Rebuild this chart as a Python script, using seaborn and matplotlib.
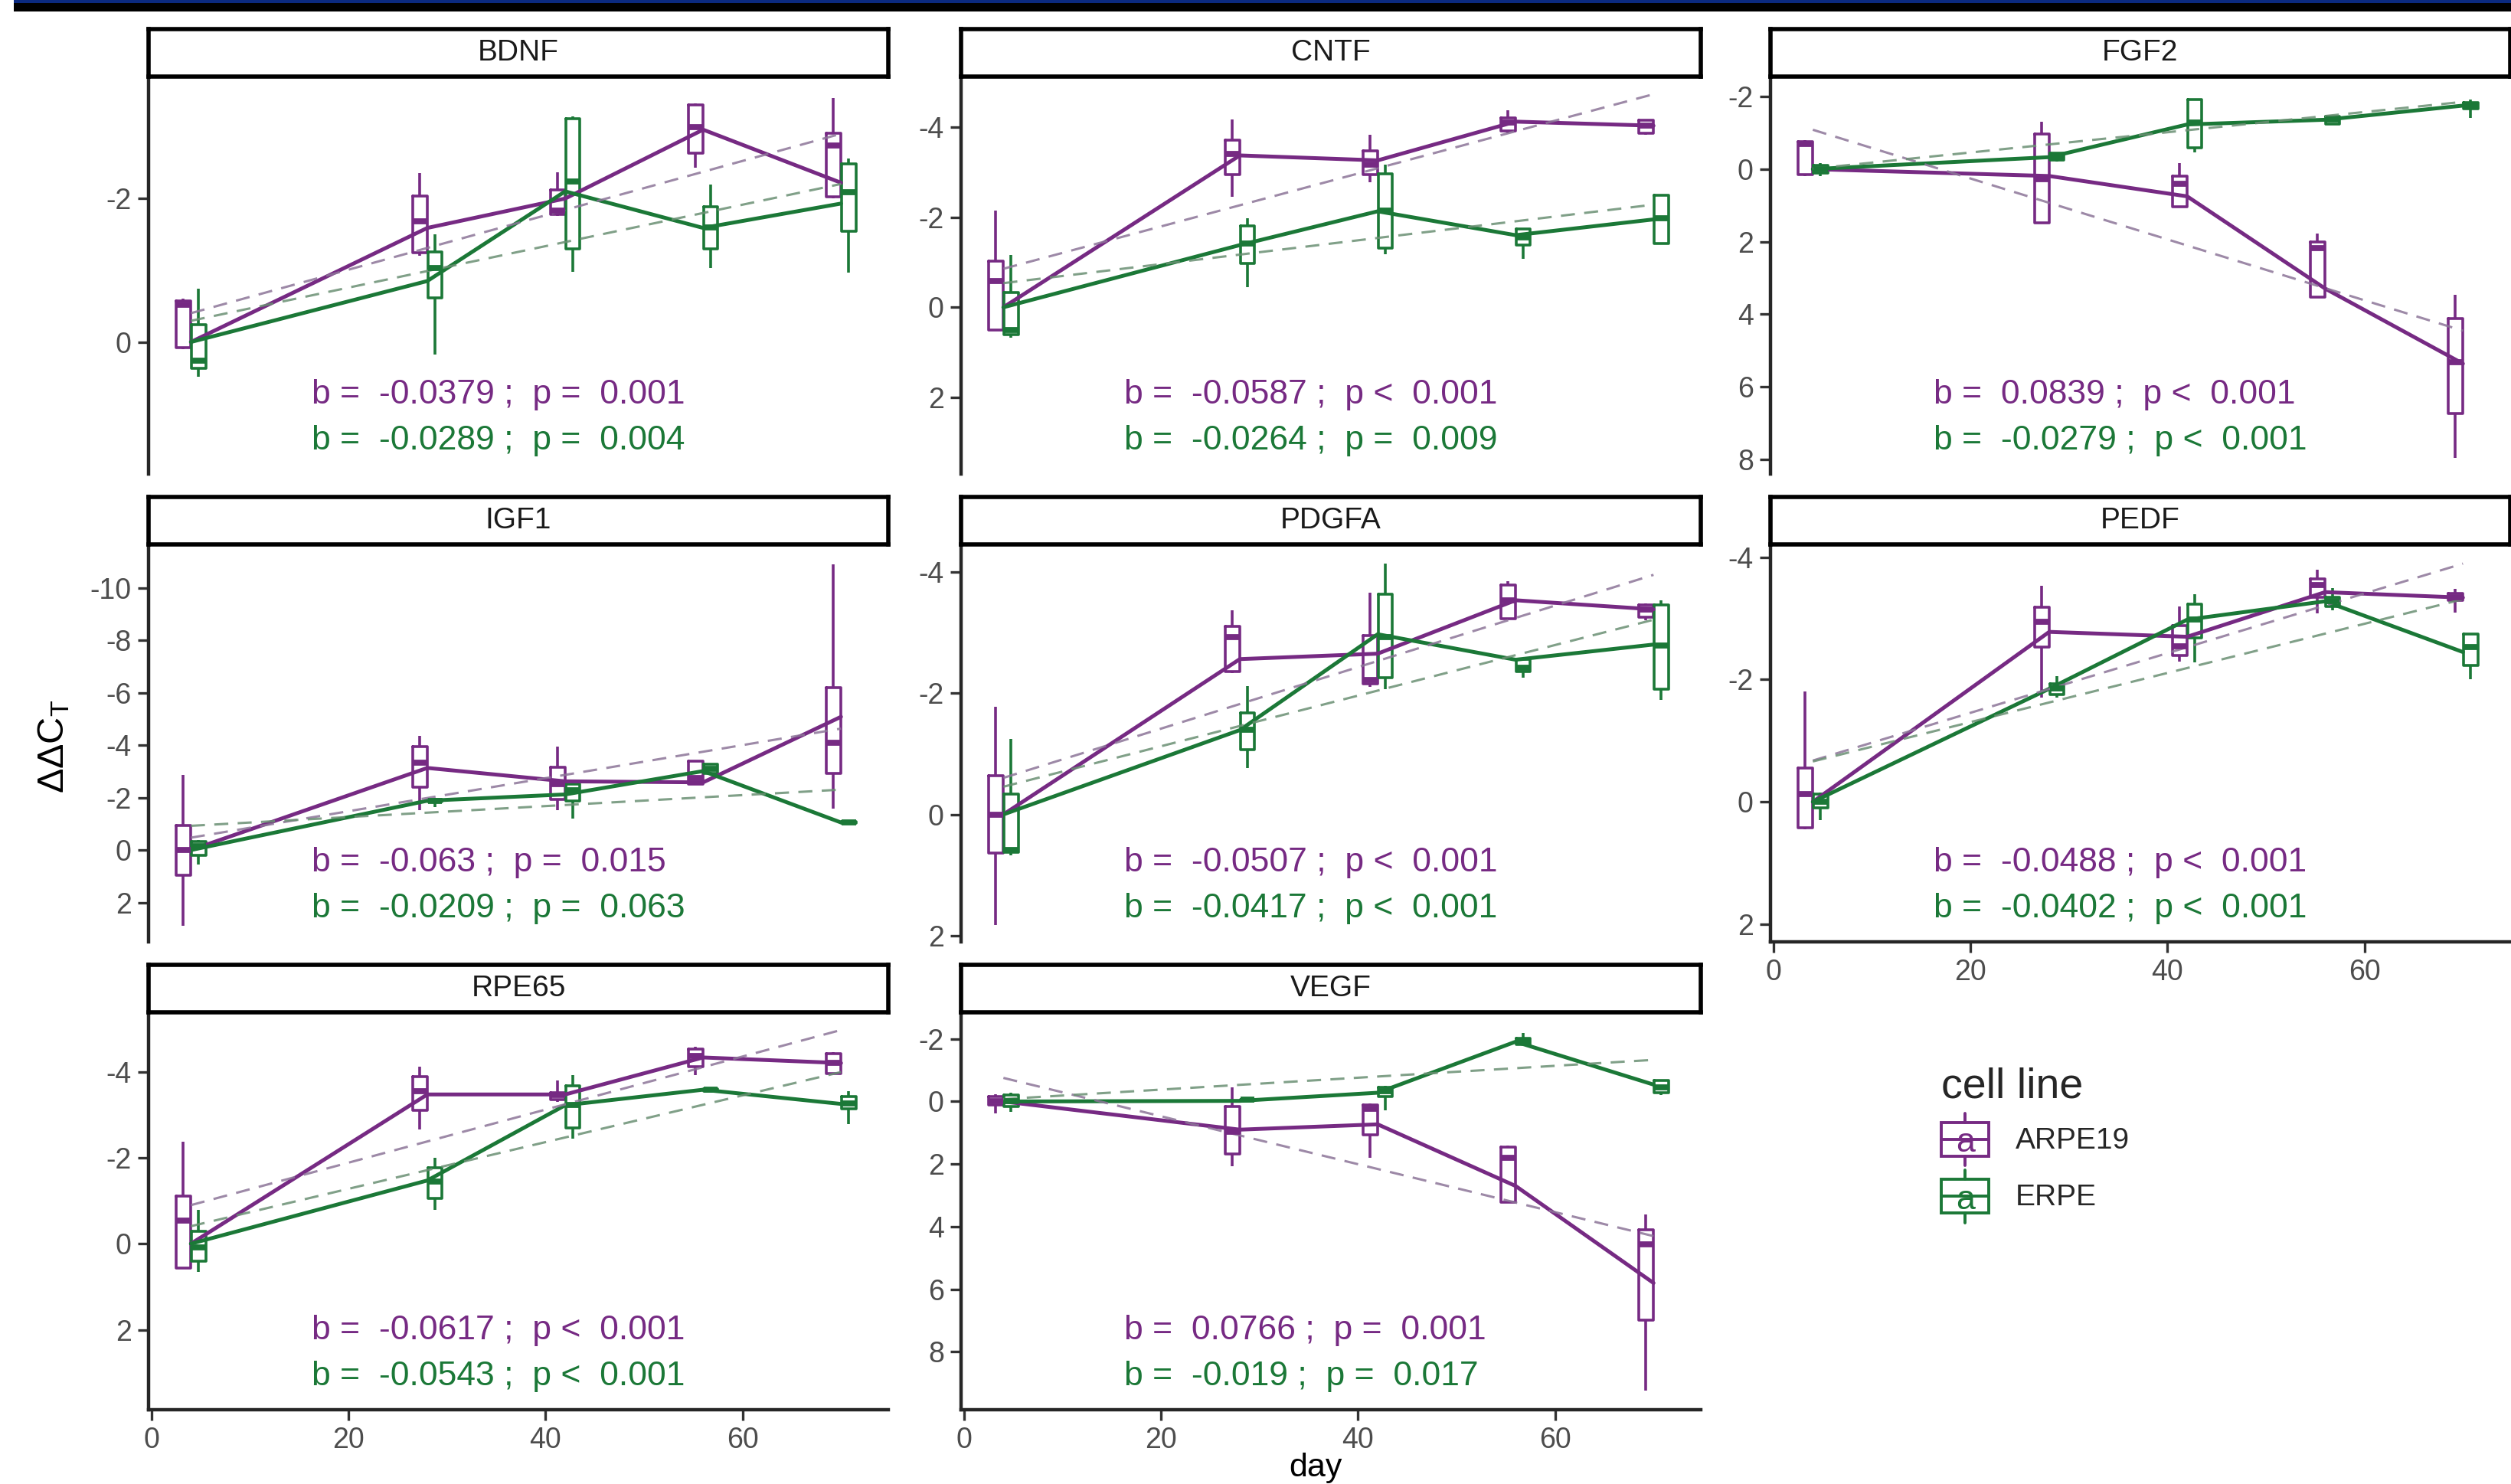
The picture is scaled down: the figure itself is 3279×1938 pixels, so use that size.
import numpy as np
import pandas as pd
import matplotlib
matplotlib.use("Agg")
import matplotlib.pyplot as plt
import seaborn as sns
from matplotlib.patches import Rectangle
from matplotlib.lines import Line2D
from matplotlib.text import Text
from matplotlib.legend_handler import HandlerBase

# ---- data ----
genes = ["BDNF", "CNTF", "FGF2", "IGF1", "PDGFA", "PEDF", "RPE65", "VEGF"]
cell_lines = ["ARPE19", "ERPE"]
days = [4, 28, 42, 56, 70]

# box stats per day: [min, q1, median, q3, max]  (ddCt)
BDNF_ARPE19 = [[-0.6, -0.57, -0.52, 0.08, 0.1], [-2.36, -2.03, -1.68, -1.24, -1.2],
               [-2.37, -2.12, -1.83, -1.78, -1.76], [-3.33, -3.3, -3.0, -2.63, -2.43],
               [-3.4, -2.91, -2.74, -2.02, -2.0]]
BDNF_ERPE = [[-0.74, -0.24, 0.26, 0.37, 0.48], [-1.5, -1.26, -1.03, -0.61, 0.17],
             [-3.14, -3.11, -2.24, -1.3, -0.98], [-2.2, -1.89, -1.6, -1.3, -1.03],
             [-2.56, -2.48, -2.09, -1.54, -0.97]]
CNTF_ARPE19 = [[-2.15, -1.03, -0.58, 0.5, 0.52], [-4.17, -3.71, -3.4, -2.95, -2.46],
               [-3.82, -3.48, -3.16, -2.95, -2.77], [-4.38, -4.2, -4.1, -3.92, -3.87],
               [-4.17, -4.15, -4.03, -3.87, -3.82]]
CNTF_ERPE = [[-1.16, -0.33, 0.5, 0.61, 0.68], [-1.97, -1.8, -1.41, -0.98, -0.44],
             [-3.16, -2.97, -2.15, -1.31, -1.17], [-1.76, -1.73, -1.55, -1.38, -1.07],
             [-2.5, -2.49, -1.97, -1.41, -1.4]]
FGF2_ARPE19 = [[-0.8, -0.76, -0.7, 0.15, 0.19], [-1.3, -0.97, 0.28, 1.48, 1.5],
               [-0.16, 0.19, 0.41, 1.03, 1.05], [1.77, 2.0, 2.17, 3.53, 3.55],
               [3.47, 4.11, 5.32, 6.74, 7.95]]
FGF2_ERPE = [[-0.16, -0.1, 0.0, 0.1, 0.19], [-0.47, -0.43, -0.33, -0.24, -0.2],
             [-1.94, -1.91, -1.28, -0.59, -0.46], [-1.47, -1.45, -1.36, -1.24, -1.22],
             [-1.91, -1.84, -1.75, -1.66, -1.42]]
IGF1_ARPE19 = [[-2.87, -0.95, 0.0, 0.97, 2.88], [-4.36, -3.95, -3.34, -2.41, -1.53],
               [-3.95, -3.16, -2.52, -1.94, -1.53], [-3.4, -3.38, -2.76, -2.52, -2.5],
               [-10.9, -6.19, -4.09, -2.93, -1.59]]
IGF1_ERPE = [[-0.37, -0.31, -0.14, 0.21, 0.56], [-2.0, -1.94, -1.88, -1.83, -1.65],
             [-2.58, -2.52, -2.29, -1.88, -1.19], [-3.28, -3.26, -3.1, -2.93, -2.9],
             [-1.1, -1.07, -1.05, -1.03, -1.0]]
PDGFA_ARPE19 = [[-1.77, -0.64, 0.0, 0.64, 1.82], [-3.37, -3.1, -2.92, -2.35, -2.33],
                [-3.65, -2.95, -2.21, -2.15, -2.1], [-3.85, -3.78, -3.53, -3.23, -3.22],
                [-3.48, -3.45, -3.38, -3.25, -3.2]]
PDGFA_ERPE = [[-1.24, -0.34, 0.59, 0.62, 0.67], [-2.12, -1.67, -1.39, -1.07, -0.76],
              [-4.13, -3.63, -2.92, -2.25, -2.06], [-2.57, -2.56, -2.42, -2.35, -2.25],
              [-3.53, -3.45, -2.78, -2.07, -1.89]]
PEDF_ARPE19 = [[-1.8, -0.55, -0.13, 0.43, 0.45], [-3.53, -3.18, -2.95, -2.53, -1.7],
               [-3.2, -2.88, -2.55, -2.4, -2.3], [-3.8, -3.65, -3.55, -3.35, -3.08],
               [-3.48, -3.41, -3.35, -3.29, -3.1]]
PEDF_ERPE = [[-0.15, -0.13, 0.0, 0.1, 0.3], [-2.05, -1.93, -1.85, -1.75, -1.7],
             [-3.4, -3.23, -2.98, -2.68, -2.28], [-3.5, -3.35, -3.28, -3.2, -3.13],
             [-2.75, -2.74, -2.53, -2.23, -2.0]]
RPE65_ARPE19 = [[-2.37, -1.1, -0.53, 0.57, 0.58], [-4.12, -3.88, -3.55, -3.1, -2.65],
                [-3.8, -3.51, -3.45, -3.35, -3.3], [-4.57, -4.53, -4.37, -4.12, -3.92],
                [-4.45, -4.41, -4.2, -3.96, -3.94]]
RPE65_ERPE = [[-0.78, -0.29, 0.08, 0.41, 0.65], [-2.0, -1.76, -1.44, -1.06, -0.78],
              [-3.92, -3.67, -3.22, -2.69, -2.45], [-3.62, -3.6, -3.58, -3.55, -3.53],
              [-3.55, -3.43, -3.27, -3.14, -2.78]]
VEGF_ARPE19 = [[-0.22, -0.17, -0.02, 0.11, 0.39], [-0.45, 0.17, 0.96, 1.67, 2.08],
               [0.06, 0.11, 0.23, 1.07, 1.8], [1.41, 1.46, 1.8, 3.21, 3.25],
               [3.6, 4.11, 4.56, 6.98, 9.23]]
VEGF_ERPE = [[-0.28, -0.2, 0.0, 0.17, 0.34], [-0.08, -0.06, -0.05, -0.04, -0.02],
             [-0.51, -0.45, -0.34, -0.17, 0.28], [-2.2, -2.03, -1.91, -1.82, -1.8],
             [-0.7, -0.68, -0.45, -0.28, -0.2]]

# mean per day (solid lines)
mean_ARPE19 = {"BDNF": [0, -1.59, -2.0, -2.96, -2.22], "CNTF": [0, -3.37, -3.26, -4.12, -4.03],
               "FGF2": [0, 0.19, 0.75, 3.29, 5.36], "IGF1": [0, -3.13, -2.62, -2.58, -5.08],
               "PDGFA": [0, -2.56, -2.65, -3.53, -3.38], "PEDF": [0, -2.78, -2.7, -3.43, -3.34],
               "RPE65": [0, -3.47, -3.47, -4.33, -4.2], "VEGF": [0, 0.9, 0.73, 2.7, 5.8]}
mean_ERPE = {"BDNF": [0, -0.85, -2.1, -1.59, -1.93], "CNTF": [0, -1.38, -2.13, -1.6, -1.95],
             "FGF2": [0, -0.33, -1.23, -1.36, -1.75], "IGF1": [0, -1.88, -2.12, -3.01, -1.05],
             "PDGFA": [0, -1.39, -2.97, -2.55, -2.8], "PEDF": [0, -1.85, -2.98, -3.28, -2.45],
             "RPE65": [0, -1.47, -3.22, -3.58, -3.25], "VEGF": [0, -0.02, -0.28, -1.91, -0.54]}

# linear fits: slope b, intercept, p value
slope_ARPE19 = [-0.0379, -0.0587, 0.0839, -0.063, -0.0507, -0.0488, -0.0617, 0.0766]
slope_ERPE = [-0.0289, -0.0264, -0.0279, -0.0209, -0.0417, -0.0402, -0.0543, -0.019]
icpt_ARPE19 = [-0.25, -0.62, -1.42, -0.22, -0.4, -0.48, -0.65, -1.06]
icpt_ERPE = [-0.18, -0.43, 0.1, -0.84, -0.29, -0.5, -0.19, 0.0]
p_ARPE19 = ["=  0.001", "<  0.001", "<  0.001", "=  0.015", "<  0.001", "<  0.001", "<  0.001", "=  0.001"]
p_ERPE = ["=  0.004", "=  0.009", "<  0.001", "=  0.063", "<  0.001", "<  0.001", "<  0.001", "=  0.017"]

boxes = {"ARPE19": dict(zip(genes, [BDNF_ARPE19, CNTF_ARPE19, FGF2_ARPE19, IGF1_ARPE19,
                                    PDGFA_ARPE19, PEDF_ARPE19, RPE65_ARPE19, VEGF_ARPE19])),
         "ERPE": dict(zip(genes, [BDNF_ERPE, CNTF_ERPE, FGF2_ERPE, IGF1_ERPE,
                                  PDGFA_ERPE, PEDF_ERPE, RPE65_ERPE, VEGF_ERPE]))}
means = {"ARPE19": mean_ARPE19, "ERPE": mean_ERPE}
slopes = {"ARPE19": slope_ARPE19, "ERPE": slope_ERPE}
icpts = {"ARPE19": icpt_ARPE19, "ERPE": icpt_ERPE}
pvals = {"ARPE19": p_ARPE19, "ERPE": p_ERPE}

# axis setup per panel (reversed y)
ylims = {"BDNF": (1.84, -3.7), "CNTF": (3.7, -5.12), "FGF2": (8.4, -2.55), "IGF1": (3.5, -11.65),
         "PDGFA": (2.1, -4.45), "PEDF": (2.29, -4.21), "RPE65": (3.86, -5.38), "VEGF": (9.85, -2.85)}
yticks = {"BDNF": [-2, 0], "CNTF": [-4, -2, 0, 2], "FGF2": [-2, 0, 2, 4, 6, 8],
          "IGF1": [-10, -8, -6, -4, -2, 0, 2], "PDGFA": [-4, -2, 0, 2], "PEDF": [-4, -2, 0, 2],
          "RPE65": [-4, -2, 0, 2], "VEGF": [-2, 0, 2, 4, 6, 8]}
with_xaxis = ["PEDF", "RPE65", "VEGF"]

palette = {"ARPE19": "#762A83", "ERPE": "#1B7837"}
fit_palette = {"ARPE19": "#8C7598", "ERPE": "#6A8F73"}

# ---- long tables ----
box_rows, mean_rows, fit_rows = [], [], []
for cl in cell_lines:
    for gi, g in enumerate(genes):
        for d, st in zip(days, boxes[cl][g]):
            for v in st:
                box_rows.append((g, cl, d, v))
        for d, m in zip(days, means[cl][g]):
            mean_rows.append((g, cl, d, m))
        for d in (days[0], days[-1]):
            fit_rows.append((g, cl, d, icpts[cl][gi] + slopes[cl][gi] * d))
box_df = pd.DataFrame(box_rows, columns=["gene", "cell line", "day", "ddct"])
mean_df = pd.DataFrame(mean_rows, columns=["gene", "cell line", "day", "ddct"])
fit_df = pd.DataFrame(fit_rows, columns=["gene", "cell line", "day", "ddct"])

# ---- style ----
sns.set_style("ticks")
plt.rcParams["font.family"] = ["Liberation Sans", "DejaVu Sans"]
plt.rcParams["axes.unicode_minus"] = False
plt.rcParams["mathtext.default"] = "regular"

W, H = 3280, 1938
fig = plt.figure(figsize=(W / 200, H / 200), dpi=200)

col_left = [194 / W, 1255 / W, 2312 / W]
ax_w = 966 / W
row_bottom = [1 - 619 / H, 1 - 1230 / H, 1 - 1841 / H]
ax_h = 519 / H
strip_h = 62 / H

for i, g in enumerate(genes):
    r, c = divmod(i, 3)
    ax = fig.add_axes([col_left[c], row_bottom[r], ax_w, ax_h])
    sub = box_df[box_df.gene == g]
    sns.boxplot(data=sub, x="day", y="ddct", hue="cell line", hue_order=cell_lines,
                palette=palette, native_scale=True, dodge=True, width=0.22, gap=0.05,
                whis=(0, 100), fill=False, saturation=1, linewidth=1.3, fliersize=0,
                showcaps=False, medianprops=dict(linewidth=2.8), legend=False, ax=ax)
    sns.lineplot(data=mean_df[mean_df.gene == g], x="day", y="ddct", hue="cell line",
                 hue_order=cell_lines, palette=palette, linewidth=1.8, legend=False, ax=ax)
    sns.lineplot(data=fit_df[fit_df.gene == g], x="day", y="ddct", hue="cell line",
                 hue_order=cell_lines, palette=fit_palette, linewidth=1.1, alpha=0.85,
                 linestyle=(0, (6, 4)), legend=False, ax=ax)
    for k, cl in enumerate(cell_lines):
        ax.text(0.22, [0.2, 0.083][k], f"b =  {slopes[cl][i]} ;  p {pvals[cl][i]}",
                transform=ax.transAxes, color=palette[cl], fontsize=16, ha="left", va="center")

    ax.set_xlim(-0.3, 74.8)
    ax.set_ylim(*ylims[g])
    ax.set_yticks(yticks[g])
    ax.set_xticks([0, 20, 40, 60])
    ax.set_xlabel("")
    ax.set_ylabel("")
    for s in ["top", "right"]:
        ax.spines[s].set_visible(False)
    ax.spines["left"].set_linewidth(1.6)
    ax.spines["bottom"].set_linewidth(1.6)
    ax.tick_params(axis="both", labelsize=13.5, labelcolor="#4D4D4D", color="#333333",
                   length=5, width=1.2, pad=3)
    if g not in with_xaxis:
        ax.spines["bottom"].set_visible(False)
        ax.tick_params(axis="x", bottom=False, labelbottom=False)

    # facet strip
    sax = fig.add_axes([col_left[c], row_bottom[r] + ax_h, ax_w, strip_h])
    sax.set_xticks([])
    sax.set_yticks([])
    for s in sax.spines.values():
        s.set_linewidth(2.0)
        s.set_color("black")
    sax.text(0.5, 0.5, g, ha="center", va="center", fontsize=14, color="#1A1A1A",
             transform=sax.transAxes)

fig.text(1718 / W, 1 / H, "day", ha="center", va="bottom", fontsize=15.5, color="black")
fig.text(70 / W, 1 - 975 / H, r"$\Delta\Delta C_T$", ha="center", va="center",
         rotation=90, fontsize=17.5, color="black")


# legend key: box glyph with a letter, as ggplot draws it
class BoxKey(HandlerBase):
    def create_artists(self, legend, orig_handle, xdescent, ydescent, width, height, fontsize, trans):
        col = orig_handle.get_edgecolor()
        x0, y0 = -xdescent, -ydescent
        w, h = width, height
        arts = [Rectangle((x0, y0 + 0.15 * h), w, 0.7 * h, fc="white", ec=col, lw=1.4, transform=trans),
                Line2D([x0, x0 + w], [y0 + 0.5 * h] * 2, color=col, lw=1.4, transform=trans),
                Line2D([x0 + w / 2] * 2, [y0 + 0.85 * h, y0 + 1.05 * h], color=col, lw=1.4, transform=trans),
                Line2D([x0 + w / 2] * 2, [y0 - 0.05 * h, y0 + 0.15 * h], color=col, lw=1.4, transform=trans),
                Text(x0 + w / 2, y0 + 0.42 * h, "a", color=col, ha="center", va="center",
                     fontsize=fontsize * 1.15, transform=trans)]
        return arts


handles = [Rectangle((0, 0), 1, 1, ec=palette[cl], fc="white") for cl in cell_lines]
leg = fig.legend(handles, cell_lines, title="cell line", loc="upper left",
                 bbox_to_anchor=(2500 / W, 1 - 1358 / H), frameon=False, fontsize=14,
                 title_fontsize=20, handler_map={Rectangle: BoxKey()}, handlelength=1.6,
                 handleheight=2.1, labelspacing=0.3, handletextpad=0.9, alignment="left")

# slide header band at the top edge
fig.patches.append(Rectangle((18 / W, 1 - 15 / H), 1, 15 / H, transform=fig.transFigure,
                             fc="black", ec="none"))
fig.patches.append(Rectangle((18 / W, 1 - 4 / H), 1, 4 / H, transform=fig.transFigure,
                             fc="#0B2A80", ec="none"))

fig.savefig("out.png", dpi=200, facecolor="white")
